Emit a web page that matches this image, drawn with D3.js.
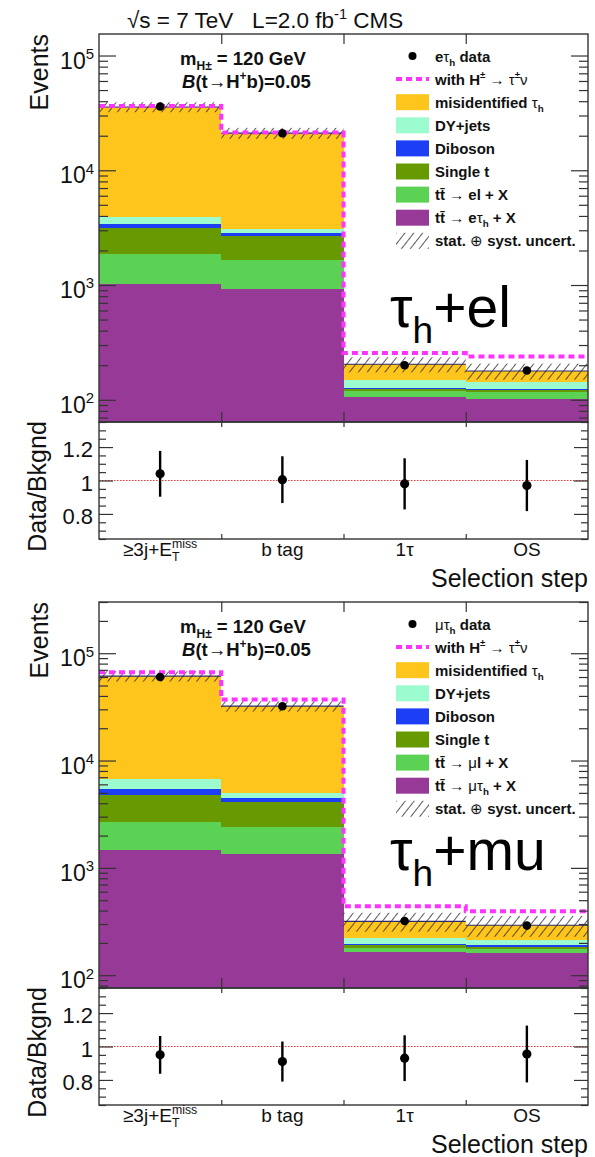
<!DOCTYPE html>
<html>
<head>
<meta charset="utf-8">
<script src="https://cdn.jsdelivr.net/npm/d3@7"></script>
<style>
  body { margin: 0; background: #fff; }
  svg { display: block; font-family: "Liberation Sans", Arial, Helvetica, sans-serif; }
  text { white-space: pre; }
</style>
</head>
<body>
<svg id="chart" width="595" height="1157"></svg>
<script>
// ---- selection steps ----
const stepLabels = ["≥3j+E_{T}^{miss}", "b tag", "1τ", "OS"];

// ---- background processes, stacked bottom to top ----
const processKeys = ["ttTau", "ttLep", "singleTop", "diboson", "dyJets", "misidTau"];
const processColors = ["#973a97", "#5bd253", "#679a00", "#1c3ef5", "#9dfccf", "#fec51c"];

// ---- e + tau_h channel (expected events per step) ----
const etauTtTau     = [1030, 931, 105, 102];
const etauTtLep     = [820, 719, 15, 14];
const etauSingleTop = [1260, 1015, 3, 5];
const etauDiboson   = [310, 155, 4, 3];
const etauDY        = [480, 230, 21, 20];
const etauMisid     = [31700, 18050, 56, 34];
const etauData      = [36000, 21000, 200, 180];
const etauSignal    = [36300, 21300, 255, 238];
const etauUnc       = [0.10, 0.11, 0.15, 0.16];
const etauRatio     = [1.04, 1.005, 0.98, 0.97];
const etauRatioErr  = [0.137, 0.14, 0.153, 0.153];
const etauLegend = ["eτ_{h} data", "with H^{±} → τ^{±}ν", "misidentified τ_{h}", "DY+jets", "Diboson",
                    "Single t", "tt̄ → el + X", "tt̄ → eτ_{h} + X", "stat. ⊕ syst. uncert."];

// ---- mu + tau_h channel (expected events per step) ----
const mutauTtTau     = [1460, 1340, 163, 160];
const mutauTtLep     = [1200, 1070, 17, 16];
const mutauSingleTop = [2090, 1670, 10, 9];
const mutauDiboson   = [700, 410, 6, 5];
const mutauDY        = [1350, 510, 26, 22];
const mutauMisid     = [54300, 27100, 96, 80];
const mutauData      = [60000, 32000, 320, 290];
const mutauSignal    = [66500, 37000, 438, 394];
const mutauUnc       = [0.11, 0.11, 0.20, 0.22];
const mutauRatio     = [0.95, 0.91, 0.93, 0.955];
const mutauRatioErr  = [0.113, 0.12, 0.137, 0.17];
const mutauLegend = ["μτ_{h} data", "with H^{±} → τ^{±}ν", "misidentified τ_{h}", "DY+jets", "Diboson",
                     "Single t", "tt̄ → μl + X", "tt̄ → μτ_{h} + X", "stat. ⊕ syst. uncert."];

const legendKinds = ["data", "signal", "fill", "fill", "fill", "fill", "fill", "fill", "hatch"];
const legendFills = [null, null, "#fec51c", "#9dfccf", "#1c3ef5", "#679a00", "#5bd253", "#973a97", null];

// ---- geometry ----
const X0 = 99, X1 = 588;
const INK = "#333";
const svg = d3.select("#chart");
const defs = svg.append("defs");

const hatch = defs.append("pattern").attr("id", "hatch")
  .attr("patternUnits", "userSpaceOnUse").attr("width", 7).attr("height", 7)
  .attr("patternTransform", "rotate(38)");
hatch.append("line").attr("x1", 0).attr("y1", 0).attr("x2", 0).attr("y2", 7)
  .attr("stroke", "#222").attr("stroke-width", 1.5);

// text with _{sub} and ^{sup} markup; symbols are set in regular weight
function rich(textSel, str, fs) {
  const tokens = str.split(/(_\{[^}]*\}|\^\{[^}]*\})/).filter(s => s.length);
  let shift = 0, subLen = null;
  tokens.forEach(tok => {
    if (tok.startsWith("_{")) {
      const t = textSel.append("tspan").attr("font-size", fs * 0.65)
        .attr("dy", fs * 0.28 - shift).text(tok.slice(2, -1));
      shift = fs * 0.28;
      subLen = t.node().getComputedTextLength();
    } else if (tok.startsWith("^{")) {
      const t = textSel.append("tspan").attr("font-size", fs * 0.65)
        .attr("dy", -fs * 0.42 - shift).text(tok.slice(2, -1));
      if (subLen !== null) t.attr("dx", -subLen);
      shift = -fs * 0.42;
      subLen = null;
    } else {
      const runs = tok.split(/([→τν±⊕μ]+)/).filter(s => s.length);
      runs.forEach((r, i) => {
        const t = textSel.append("tspan").text(r);
        if (i === 0) t.attr("dy", -shift);
        if (/^[→τν±⊕μ]+$/.test(r)) t.attr("font-weight", "normal");
      });
      shift = 0;
      subLen = null;
    }
  });
}

function cleanAxis(g) {
  g.select(".domain").remove();
  g.attr("font-size", null).attr("font-family", null).attr("color", INK);
  g.selectAll(".tick line").attr("stroke-width", 1.2);
}

function drawChannel(c) {
  const g = svg.append("g");
  const x = d3.scaleLinear().domain([0, stepLabels.length]).range([X0, X1]);
  const y = d3.scaleLog().domain([c.yMin, c.yMax]).range([c.mainBot, c.top]);
  const yr = d3.scaleLinear().domain([0.65, 1.35]).range([c.ratioBot, c.mainBot]);
  const edges = d3.range(1, stepLabels.length);

  const clipId = "clip" + c.top;
  defs.append("clipPath").attr("id", clipId).append("rect")
    .attr("x", X0).attr("y", c.top).attr("width", X1 - X0).attr("height", c.mainBot - c.top);
  const plot = g.append("g").attr("clip-path", `url(#${clipId})`);

  // stacked backgrounds
  const rows = stepLabels.map((s, i) => {
    const r = {};
    processKeys.forEach((k, j) => { r[k] = c.stack[j][i]; });
    return r;
  });
  const series = d3.stack().keys(processKeys)(rows);
  series.forEach((s, j) => {
    plot.append("g").selectAll("rect").data(s).enter().append("rect")
      .attr("shape-rendering", "crispEdges")
      .attr("x", (d, i) => x(i)).attr("width", (d, i) => x(i + 1) - x(i))
      .attr("y", d => y(d[1]))
      .attr("height", d => y(Math.max(d[0], c.yMin)) - y(d[1]))
      .attr("fill", processColors[j]);
  });
  const totals = rows.map(r => d3.sum(processKeys, k => r[k]));

  // uncertainty band
  plot.append("g").selectAll("rect").data(totals).enter().append("rect")
    .attr("x", (d, i) => x(i)).attr("width", (d, i) => x(i + 1) - x(i))
    .attr("y", (d, i) => y(d * (1 + c.unc[i])))
    .attr("height", (d, i) => y(d * (1 - c.unc[i])) - y(d * (1 + c.unc[i])))
    .attr("fill", "url(#hatch)");
  plot.append("g").selectAll("line").data(totals).enter().append("line")
    .attr("x1", (d, i) => x(i)).attr("x2", (d, i) => x(i + 1))
    .attr("y1", d => y(d)).attr("y2", d => y(d))
    .attr("stroke", "#2b2b6a").attr("stroke-width", 1.2);

  // background + signal, dashed step line
  const stepPts = [];
  c.signal.forEach((v, i) => { stepPts.push([x(i), y(v)], [x(i + 1), y(v)]); });
  plot.append("path").attr("d", d3.line()(stepPts))
    .attr("fill", "none").attr("stroke", "#ff33ff").attr("stroke-width", 4)
    .attr("stroke-dasharray", "6 4");

  // data points
  g.append("g").selectAll("circle").data(c.data).enter().append("circle")
    .attr("cx", (d, i) => x(i + 0.5)).attr("cy", d => y(d)).attr("r", 4.3).attr("fill", "#000");

  // main-panel axes
  const logTicks = y.ticks();
  const isDecade = v => Math.abs(Math.log10(v) - Math.round(Math.log10(v))) < 1e-9;
  const majors = logTicks.filter(isDecade);
  const minors = logTicks.filter(v => !isDecade(v));
  g.append("g").attr("transform", `translate(${X0},0)`)
    .call(d3.axisLeft(y).tickValues(majors).tickSize(-17).tickFormat("")).call(cleanAxis);
  g.append("g").attr("transform", `translate(${X0},0)`)
    .call(d3.axisLeft(y).tickValues(minors).tickSize(-9).tickFormat("")).call(cleanAxis);
  g.append("g").attr("transform", `translate(${X1},0)`)
    .call(d3.axisRight(y).tickValues(majors).tickSize(-17).tickFormat("")).call(cleanAxis);
  g.append("g").attr("transform", `translate(${X1},0)`)
    .call(d3.axisRight(y).tickValues(minors).tickSize(-9).tickFormat("")).call(cleanAxis);
  g.append("g").attr("transform", `translate(0,${c.top})`)
    .call(d3.axisBottom(x).tickValues(edges).tickSize(10).tickFormat("")).call(cleanAxis);
  g.append("g").attr("transform", `translate(0,${c.mainBot})`)
    .call(d3.axisTop(x).tickValues(edges).tickSize(10).tickFormat("")).call(cleanAxis);

  majors.forEach(v => {
    const t = g.append("text").attr("x", X0 - 5).attr("y", y(v) + 13)
      .attr("text-anchor", "end").attr("font-size", 23).attr("fill", "#111");
    rich(t, "10^{" + Math.round(Math.log10(v)) + "}", 23);
  });

  g.append("rect").attr("x", X0).attr("y", c.top).attr("width", X1 - X0)
    .attr("height", c.mainBot - c.top).attr("fill", "none").attr("stroke", INK).attr("stroke-width", 1.4);

  g.append("text").attr("transform", `translate(48,${c.top}) rotate(-90)`)
    .attr("text-anchor", "end").attr("font-size", 25).attr("fill", "#111").text("Events");

  // mass point text
  const t1 = g.append("text").attr("x", 180).attr("y", c.top + 31)
    .attr("font-size", 18.5).attr("font-weight", "bold").attr("fill", "#111");
  rich(t1, "m_{H±} = 120 GeV", 18.5);
  const t2 = g.append("text").attr("x", 182).attr("y", c.top + 54)
    .attr("font-size", 18.5).attr("font-weight", "bold").attr("fill", "#111");
  t2.append("tspan").attr("font-style", "italic").text("B");
  rich(t2, "(t→H^{+}b)=0.05", 18.5);

  // legend
  const lx = 396, lw = 33, ltx = 435, ly0 = c.top + 22, lstep = 23.1;
  c.legend.forEach((lab, i) => {
    const ly = ly0 + i * lstep;
    const kind = legendKinds[i];
    if (kind === "data") {
      g.append("circle").attr("cx", lx + lw / 2).attr("cy", ly).attr("r", 4).attr("fill", "#000");
    } else if (kind === "signal") {
      g.append("line").attr("x1", lx).attr("x2", lx + lw).attr("y1", ly).attr("y2", ly)
        .attr("stroke", "#ff33ff").attr("stroke-width", 4).attr("stroke-dasharray", "6 4");
    } else if (kind === "fill") {
      g.append("rect").attr("x", lx).attr("y", ly - 8).attr("width", lw).attr("height", 16)
        .attr("fill", legendFills[i]);
    } else {
      g.append("rect").attr("x", lx).attr("y", ly - 8).attr("width", lw).attr("height", 16)
        .attr("fill", "url(#hatch)");
    }
    const t = g.append("text").attr("x", ltx).attr("y", ly + 5.5)
      .attr("font-size", 15).attr("font-weight", "bold").attr("fill", "#111");
    rich(t, lab, 15);
  });

  // channel tag
  const tag = g.append("text").attr("x", 390).attr("y", c.labelY)
    .attr("font-size", 57).attr("fill", "#000");
  rich(tag, c.label, 57);

  // ---- ratio panel ----
  const rg = svg.append("g");
  rg.append("line").attr("x1", X0).attr("x2", X1).attr("y1", yr(1)).attr("y2", yr(1))
    .attr("stroke", "#ff3030").attr("stroke-width", 1.2).attr("stroke-dasharray", "1.5 1.5");
  rg.append("g").selectAll("line").data(c.ratio).enter().append("line")
    .attr("x1", (d, i) => x(i + 0.5)).attr("x2", (d, i) => x(i + 0.5))
    .attr("y1", (d, i) => yr(d - c.ratioErr[i])).attr("y2", (d, i) => yr(d + c.ratioErr[i]))
    .attr("stroke", "#000").attr("stroke-width", 2.4);
  rg.append("g").selectAll("circle").data(c.ratio).enter().append("circle")
    .attr("cx", (d, i) => x(i + 0.5)).attr("cy", d => yr(d)).attr("r", 4.6).attr("fill", "#000");

  const rTicks = yr.ticks(14);
  const isMajorR = v => Math.abs(v * 5 - Math.round(v * 5)) < 1e-9;
  const rMajors = rTicks.filter(isMajorR), rMinors = rTicks.filter(v => !isMajorR(v));
  rg.append("g").attr("transform", `translate(${X0},0)`)
    .call(d3.axisLeft(yr).tickValues(rMajors).tickSize(-14).tickFormat("")).call(cleanAxis);
  rg.append("g").attr("transform", `translate(${X0},0)`)
    .call(d3.axisLeft(yr).tickValues(rMinors).tickSize(-7).tickFormat("")).call(cleanAxis);
  rg.append("g").attr("transform", `translate(${X1},0)`)
    .call(d3.axisRight(yr).tickValues(rMajors).tickSize(-14).tickFormat("")).call(cleanAxis);
  rg.append("g").attr("transform", `translate(${X1},0)`)
    .call(d3.axisRight(yr).tickValues(rMinors).tickSize(-7).tickFormat("")).call(cleanAxis);
  rg.append("g").attr("transform", `translate(0,${c.mainBot})`)
    .call(d3.axisBottom(x).tickValues(edges).tickSize(5).tickFormat("")).call(cleanAxis);
  rg.append("g").attr("transform", `translate(0,${c.ratioBot})`)
    .call(d3.axisTop(x).tickValues(edges).tickSize(5).tickFormat("")).call(cleanAxis);

  rMajors.forEach(v => {
    rg.append("text").attr("x", X0 - 6).attr("y", yr(v) + 10)
      .attr("text-anchor", "end").attr("font-size", 22).attr("fill", "#111")
      .text(v === 1 ? "1" : d3.format(".1f")(v));
  });

  rg.append("rect").attr("x", X0).attr("y", c.mainBot).attr("width", X1 - X0)
    .attr("height", c.ratioBot - c.mainBot).attr("fill", "none").attr("stroke", INK).attr("stroke-width", 1.4);

  rg.append("text").attr("transform", `translate(46,${(c.mainBot + c.ratioBot) / 2 + 6}) rotate(-90)`)
    .attr("text-anchor", "middle").attr("font-size", 25).attr("fill", "#111").text("Data/Bkgnd");

  stepLabels.forEach((lab, i) => {
    const t = rg.append("text").attr("x", x(i + 0.5)).attr("y", c.ratioBot + 17)
      .attr("text-anchor", "middle").attr("font-size", 19).attr("fill", "#111");
    rich(t, lab, 19);
  });

  rg.append("text").attr("x", X1).attr("y", c.ratioBot + 48)
    .attr("text-anchor", "end").attr("font-size", 25).attr("fill", "#111").text("Selection step");
}

// header
const title = svg.append("text").attr("x", 127).attr("y", 28)
  .attr("font-size", 22.5).attr("fill", "#111");
rich(title, "√s = 7 TeV   L=2.0 fb^{-1} CMS", 22.5);

drawChannel({
  top: 34, mainBot: 422, ratioBot: 539, yMin: 64, yMax: 1.54e5,
  stack: [etauTtTau, etauTtLep, etauSingleTop, etauDiboson, etauDY, etauMisid],
  data: etauData, signal: etauSignal, unc: etauUnc,
  ratio: etauRatio, ratioErr: etauRatioErr, legend: etauLegend,
  label: "τ_{h}+el", labelY: 327
});

drawChannel({
  top: 602, mainBot: 988, ratioBot: 1105, yMin: 76, yMax: 3.0e5,
  stack: [mutauTtTau, mutauTtLep, mutauSingleTop, mutauDiboson, mutauDY, mutauMisid],
  data: mutauData, signal: mutauSignal, unc: mutauUnc,
  ratio: mutauRatio, ratioErr: mutauRatioErr, legend: mutauLegend,
  label: "τ_{h}+mu", labelY: 870
});
</script>
</body>
</html>
